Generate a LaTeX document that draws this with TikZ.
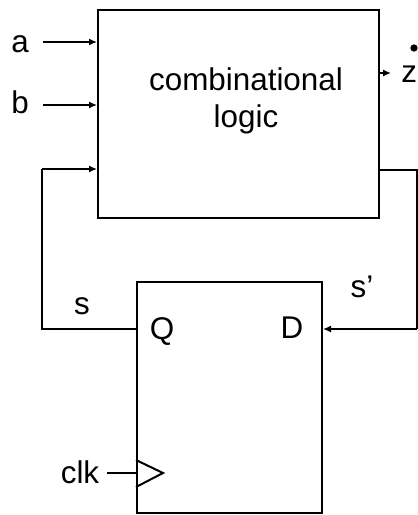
\documentclass[tikz,border=0pt]{standalone}
\usepackage{fontspec}
\setmainfont{Liberation Sans}
\usetikzlibrary{arrows.meta}

\tikzset{
	wire/.style={line width=1pt},
	sig/.style={wire, -{Latex[length=4pt,width=3.6pt]}},
	lbl/.style={anchor=base, inner sep=0pt, font=\fontsize{15.7}{18}\selectfont},
	blk/.style={draw, line width=1pt, inner sep=0pt}
}

\begin{document}
\begin{tikzpicture}[x=0.5pt, y=-0.5pt]
	\useasboundingbox (0,0) rectangle (418,515);

	% logic block and state register
	\node[blk, minimum width=140.5pt, minimum height=104pt] (comb) at (238.5,114) {};
	\node[blk, minimum width=92.5pt, minimum height=115.5pt] (ff) at (229.5,397.5) {};

	\node[lbl] (t1) at (246,90) {combinational};
	\node[lbl] (t2) at (246,127) {logic};

	% inputs
	\node[lbl] (a) at (20,52) {a};
	\node[lbl] (b) at (20,113) {b};
	\coordinate (ain) at (43,42);
	\coordinate (bin) at (43,105);
	\draw[sig] (ain) -- (comb.west |- ain);
	\draw[sig] (bin) -- (comb.west |- bin);

	% output
	\coordinate (zout) at (391,73);
	\draw[sig] (comb.east |- zout) -- (zout);
	\node[lbl, anchor=base west] (z) at (401,82) {z};
	\filldraw (414,48) circle (1.6pt);

	% next state s'
	\coordinate (ns1) at (417,170);
	\coordinate (ns2) at (417,329);
	\draw[wire] (comb.east |- ns1) -- (ns1) -- (ns2);
	\draw[sig] (ns2) -- (ff.east |- ns2);
	\node[lbl] (sp) at (362,297) {s'};

	% present state s
	\coordinate (ps1) at (42,329);
	\coordinate (ps2) at (42,169);
	\draw[wire] (ff.west |- ps1) -- (ps1) -- (ps2);
	\draw[sig] (ps2) -- (comb.west |- ps2);
	\node[lbl] (s) at (82,314) {s};

	\node[lbl] (q) at (162,339) {Q};
	\node[lbl] (d) at (292,338) {D};

	% clock
	\coordinate (ck) at (107,473);
	\draw[wire] (ck) -- (ff.west |- ck);
	\draw[wire, line join=miter] (ff.west |- 0,460) -- (163,473) -- (ff.west |- 0,487);
	\node[lbl] (clk) at (80,483) {clk};
\end{tikzpicture}
\end{document}
